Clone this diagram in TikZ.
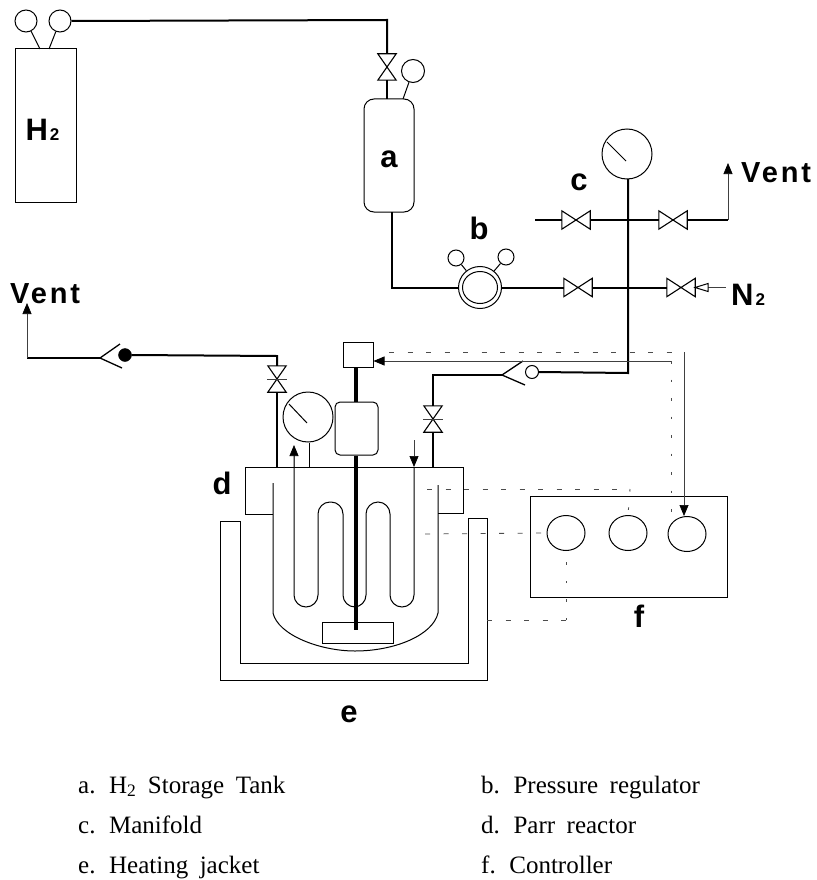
\documentclass[tikz,border=0pt]{standalone}
\usepackage{fontspec}
\setmainfont{Liberation Serif}
\setsansfont{Liberation Sans}
\usepackage{xcolor}
\usepackage{tikz}
\usetikzlibrary{arrows}
\usetikzlibrary{arrows.meta}
\usetikzlibrary{shapes.geometric}

\newcommand{\lblfont}{\sffamily\bfseries\fontsize{31}{33}\selectfont}
\newcommand{\ventfont}{\sffamily\bfseries\fontsize{29}{31}\selectfont\addfontfeature{LetterSpace=10}}
\newcommand{\subfont}{\sffamily\bfseries\fontsize{17}{19}\selectfont}
\newcommand{\legfont}{\fontsize{25}{28}\selectfont\spaceskip=11.5pt\relax}

\tikzset{
    pipe/.style = {line width = 2pt},
    shaft/.style = {line width = 3.5pt},
    wall/.style = {line width = 1pt},
    hair/.style = {line width = 0.7pt, black!75},
    ctrl/.style = {line width = 0.8pt, black!70, dash pattern = on 5pt off 13.5pt},
    ctrlv/.style = {line width = 0.9pt, black!70, dash pattern = on 2.5pt off 16pt},
    tipped/.style = {-{Triangle[length=11pt,width=9pt,black]}},
    gauge/.style = {circle, draw, wall, fill = white, inner sep = 0pt},
    valveh/.style = {rectangle, inner sep = 0pt, minimum width = 28pt, minimum height = 18pt},
    valvev/.style = {rectangle, inner sep = 0pt, minimum width = 18pt, minimum height = 26pt},
    dial/.style = {ellipse, draw, wall, minimum width = 38pt, minimum height = 35pt, inner sep = 0pt},
    lbl/.style = {inner sep = 0pt, font = \lblfont},
    vent/.style = {inner sep = 0pt, anchor = base west, font = \ventfont},
    legend/.style = {inner sep = 0pt, anchor = base west, font = \legfont}
}

\begin{document}
\begin{tikzpicture}[x=1pt,y=-1pt,>=stealth']

    \useasboundingbox (0,0) rectangle (816,880);

    % cylinder and storage tank
    \node[rectangle,
          draw,
          wall,
          minimum width = 61pt,
          minimum height = 153pt
          ] (cyl) at (45.5,125.5) {};
    \node[lbl] at (42.5,130) {H\hspace{2pt}\subfont 2};
    \node[gauge, minimum size = 22pt] (cylg1) at (26,21) {};
    \node[gauge, minimum size = 22pt] (cylg2) at (60,21) {};
    \coordinate (cyls1) at (40,49);
    \coordinate (cyls2) at (49,49);

    \node[rectangle,
          draw,
          wall,
          rounded corners = 10pt,
          minimum width = 50pt,
          minimum height = 113pt
          ] (tank) at (389,155.5) {};
    \node[lbl] at (389,159) {a};
    \node[gauge, minimum size = 23pt] (tankg) at (413,71) {};
    \node[valvev] (vtank) at (387,67) {};
    \coordinate (tcor) at (387,20);
    \coordinate (tin) at (387,99);
    \coordinate (ts) at (403,99);
    \coordinate (tout) at (392,212);

    % regulator
    \node[ellipse, draw, wall, minimum width = 43pt, minimum height = 42pt, inner sep = 0pt] (reg) at (480,287.5) {};
    \node[ellipse, draw, wall, minimum width = 35pt, minimum height = 32pt, inner sep = 0pt] (regin) at (480,287.5) {};
    \node[gauge, minimum size = 16pt] (regg1) at (456,258) {};
    \node[gauge, minimum size = 16pt] (regg2) at (506,257) {};
    \node[lbl] at (479,228) {b};

    % manifold
    \node[gauge, minimum size = 50pt] (mang) at (627,154) {};
    \node[valveh] (vc1) at (576,220) {};
    \node[valveh] (vc2) at (673,220) {};
    \node[valveh] (vb1) at (578,287.5) {};
    \node[valveh] (vb2) at (681,287.5) {};
    \node[lbl] at (579,182) {c};
    \coordinate (cin) at (535,220);
    \coordinate (cvent) at (728,220);
    \coordinate (cvtip) at (728,163);
    \coordinate (mtop) at (628,179);
    \coordinate (mcor) at (628,373);
    \coordinate (n2tip) at (695,287.5);
    \coordinate (n2end) at (726,287.5);
    \coordinate (mndl1) at (607,142);
    \coordinate (mndl2) at (626,161);
    \node[vent] at (741,182) {Vent};
    \node[lbl, anchor = base west] at (731,305) {N\hspace{2pt}\subfont 2};

    % reactor inlet
    \node[gauge, minimum size = 13pt] (ckb) at (532,372) {};
    \coordinate (ckt) at (502,375);
    \coordinate (cka) at (523,361);
    \coordinate (ckc) at (525,385);
    \coordinate (icor) at (433,375);
    \node[valvev] (vin) at (433,419) {};

    % reactor outlet
    \node[valvev] (vout) at (277,379) {};
    \coordinate (ocor) at (277,356);
    \node[circle, draw, fill = black, minimum size = 13pt, inner sep = 0pt] (okb) at (125,355) {};
    \coordinate (okt) at (100,358);
    \coordinate (oka) at (120,344);
    \coordinate (okc) at (122,368);
    \coordinate (ovent) at (27,358);
    \coordinate (ovtip) at (27,303);
    \node[vent] at (10,303) {Vent};

    % reactor
    \coordinate (lidtl) at (245,467);
    \coordinate (lidtr) at (463,467);
    \coordinate (lidin) at (277,467);
    \coordinate (lidout) at (433,467);
    \coordinate (lidg) at (309,467);
    \draw[wall] (273,514) -- (245,514) -- (lidtl) -- (lidtr) -- (463,513) -- (438,513);
    \draw[wall] (273,483) -- (273,613) .. controls (278,635) and (320,651) .. (355,651)
                .. controls (395,651) and (433,635) .. (438,613) -- (438,485);
    \draw[wall, rounded corners = 12pt]
        (294,452) -- (294,607) -- (318,607) -- (318,502) -- (343,502) -- (343,607) -- (366,607)
        -- (366,502) -- (390,502) -- (390,607) -- (414,607) -- (414,467);
    \draw[hair, tipped] (294,467) -- (294,445);
    \draw[hair, tipped] (414,440) -- (414,467);

    \node[rectangle, draw, wall, fill = white, minimum width = 71pt, minimum height = 21pt, inner sep = 0pt] (imp) at (357.5,632.5) {};
    \node[rectangle, draw, wall, fill = white, rounded corners = 5pt, minimum width = 43pt, minimum height = 53pt, inner sep = 0pt] (motor) at (356.5,428.5) {};
    \node[rectangle, draw, wall, minimum width = 30pt, minimum height = 25pt, inner sep = 0pt] (sbox) at (358,354.5) {};
    \coordinate (shend) at (356,630);
    \node[gauge, minimum size = 50pt] (reag) at (308,417) {};
    \coordinate (rndl1) at (289,404);
    \coordinate (rndl2) at (307,423);
    \node[lbl] at (222,483) {d};

    % jacket
    \draw[wall] (240,521) -- (220,521) -- (220,680) -- (487,680) -- (487,518) -- (468,518) -- (468,663) -- (240,663) -- cycle;
    \coordinate (jout) at (487,620);
    \node[lbl] at (349,714) {e};

    % controller
    \node[rectangle, draw, wall, minimum width = 197pt, minimum height = 101pt] (contr) at (628.5,546.5) {};
    \node[dial] (dial1) at (566,533) {};
    \node[dial] (dial2) at (628,533) {};
    \node[dial] (dial3) at (687,534) {};
    \node[lbl] at (639,616) {f};

    % valve bodies
    \foreach \v in {vc1,vc2,vb1,vb2}
        \draw[line width = 1.1pt] (\v.north west) -- (\v.south east) -- (\v.north east) -- (\v.south west) -- cycle;
    \foreach \v in {vin,vout,vtank}
        \draw[line width = 1.1pt] (\v.north west) -- (\v.north east) -- (\v.south west) -- (\v.south east) -- cycle;

    % gas lines
    \draw[pipe] (cylg2.east) -- (tcor) -- (vtank.north);
    \draw[pipe] (vtank.south) -- (tin);
    \path[every edge/.style = {draw, wall}]
    (cylg1) edge (cyls1)
    (cylg2) edge (cyls2)
    (tankg) edge (ts)
    (regg1) edge (reg)
    (regg2) edge (reg)
    (mndl1) edge (mndl2)
    (rndl1) edge (rndl2);
    \draw[pipe] (tout) |- (reg.west);
    \draw[pipe] (reg.east) -- (vb1.west);
    \draw[pipe] (vb1.east) -- (vb2.west);
    \draw[pipe] (cin) -- (vc1.west);
    \draw[pipe] (vc1.east) -- (vc2.west);
    \draw[pipe] (vc2.east) -- (cvent);
    \draw[hair, tipped] (cvent) -- (cvtip);
    \draw[hair] (vb2.east) -- (n2end);
    \draw[wall, fill = white] (n2tip) -- (708,283.5) -- (708,291.5) -- cycle;
    \draw[pipe] (mtop) -- (mcor) -- (ckb.east);
    \draw[pipe] (ckt) -- (icor) -- (vin.north);
    \draw[pipe] (vin.south) -- (lidout);
    \draw[line width = 1.3pt] (cka) -- (ckt) -- (ckc);
    \draw[hair] (423,419) -- (443,419);
    \draw[pipe] (okb.east) -- (ocor) -- (vout.north);
    \draw[pipe] (vout.south) -- (lidin);
    \draw[line width = 1.3pt] (oka) -- (okt) -- (okc);
    \draw[pipe] (okt) -- (ovent);
    \draw[hair, tipped] (ovent) -- (ovtip);
    \draw[hair] (267,379) -- (287,379);

    % reactor fittings
    \draw[wall] (reag.south -| lidg) -- (lidg);
    \draw[shaft] (sbox.south -| shend) -- (motor.north -| shend);
    \draw[shaft] (motor.south -| shend) -- (shend);

    % controller lines
    \coordinate (sigtl) at (389,352);
    \coordinate (sigtr) at (684,352);
    \coordinate (sigc) at (671,361);
    \coordinate (sigm) at (630,489);
    \coordinate (sigb) at (566,620);
    \draw[ctrl] (sigtl) -- (sigtr);
    \draw[hair, tipped] (sigtr) -- (dial3.north -| sigtr);
    \draw[hair, tipped] (sigc) -- (sbox.east |- sigc);
    \draw[ctrlv] (sigc) -- (671,512);
    \draw[ctrl] (427,489) -- (sigm);
    \draw[ctrlv] (sigm) -- (dial2.north);
    \draw[ctrl] (425,534) -- (dial1.west);
    \draw[ctrl] (jout) -- (sigb);
    \draw[ctrlv] (sigb) -- (dial1.south);

    % legend
    \node[legend] (lega) at (78,793) {a. H\textsubscript{2} Storage Tank};
    \node[legend] (legb) at (481,793) {b. Pressure regulator};
    \node[legend] (legc) at (78,833) {c. Manifold};
    \node[legend] (legd) at (481,833) {d. Parr reactor};
    \node[legend] (lege) at (78,873) {e. Heating jacket};
    \node[legend] (legf) at (481,873) {f. Controller};

\end{tikzpicture}
\end{document}
